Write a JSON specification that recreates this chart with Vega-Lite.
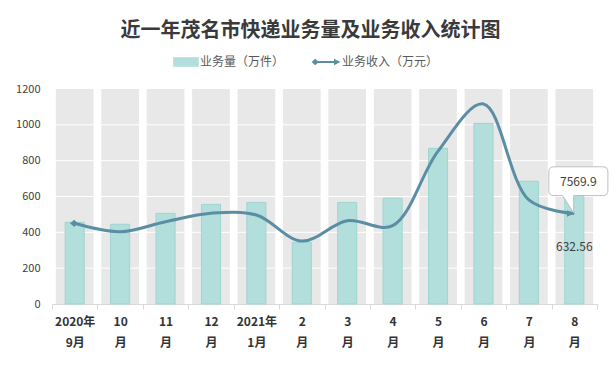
{
  "$schema": "https://vega.github.io/schema/vega-lite/v6.json",
  "width": 545,
  "height": 215,
  "autosize": "none",
  "padding": {"left": 52, "top": 89, "right": 19, "bottom": 67},
  "background": "white",
  "config": {
    "font": "Noto Sans CJK SC",
    "view": {"stroke": null},
    "axis": {"labelOverlap": false, "labelSeparation": 0, "labelBound": false},
    "axisQuantitative": {"labelOverlap": false, "tickCount": 7},
    "axisY": {"labelOverlap": false, "labelFlush": false, "format": "d", "domain": false, "ticks": false, "grid": false, "labelFontSize": 11, "labelColor": "#404040", "labelPadding": 12, "tickCount": 7}
  },
  "title": {
    "text": "近一年茂名市快递业务量及业务收入统计图",
    "font": "Noto Sans CJK SC",
    "fontSize": 20,
    "fontWeight": "bold",
    "color": "#3a3a3a",
    "anchor": "middle",
    "frame": "group",
    "dx": -14,
    "offset": 13
  },
  "datasets": {
    "monthly": [
      {"month": "2020年9月", "volume": 456, "revenue": 6755},
      {"month": "10月", "volume": 445, "revenue": 6050},
      {"month": "11月", "volume": 506, "revenue": 6890},
      {"month": "12月", "volume": 556, "revenue": 7600},
      {"month": "2021年1月", "volume": 567, "revenue": 7450},
      {"month": "2月", "volume": 344, "revenue": 5270},
      {"month": "3月", "volume": 567, "revenue": 6975},
      {"month": "4月", "volume": 590, "revenue": 6555},
      {"month": "5月", "volume": 869, "revenue": 12800},
      {"month": "6月", "volume": 1008, "revenue": 16750},
      {"month": "7月", "volume": 685, "revenue": 8710},
      {"month": "8月", "volume": 632.56, "revenue": 7569.9}
    ],
    "grid": [
      {"tick": 200}, {"tick": 400}, {"tick": 600}, {"tick": 800}, {"tick": 1000}
    ]
  },
  "resolve": {"scale": {"y": "independent"}},
  "layer": [
    {
      "layer": [
        {
          "data": {"name": "monthly"},
          "mark": {"type": "bar", "color": "#e8e8e8", "width": {"band": 0.83}},
          "encoding": {
            "x": {
              "field": "month",
              "type": "nominal",
              "sort": null,
              "scale": {"paddingInner": 0, "paddingOuter": 0},
              "axis": {
                "title": null,
                "labelAngle": 0,
                "domainColor": "#d9d9d9",
                "tickColor": "#d9d9d9",
                "tickSize": 5,
                "tickBand": "extent",
                "grid": false,
                "labelFlush": false,
                "labelOverlap": false,
                "labelFont": "Noto Sans CJK SC",
                "labelFontSize": 12,
                "labelFontWeight": "bold",
                "labelColor": "#333333",
                "labelLineHeight": 21,
                "labelPadding": 7,
                "labelBaseline": "top",
                "labelExpr": "length(datum.label) == 0 ? '' : length(datum.label) > 4 ? [substring(datum.label, 0, 5), substring(datum.label, 5, 7)] : [replace(datum.label, '月', ''), '月']"
              }
            },
            "y": {
              "datum": 1200,
              "type": "quantitative",
              "scale": {"domain": [0, 1200], "nice": false},
              "axis": {"title": null, "values": [0, 200, 400, 600, 800, 1000, 1200], "labelOverlap": false, "tickCount": 7}
            }
          }
        },
        {
          "data": {"name": "grid"},
          "mark": {"type": "rule", "color": "#ffffff", "strokeWidth": 1},
          "encoding": {
            "y": {"field": "tick", "type": "quantitative", "axis": {"title": null, "values": [0, 200, 400, 600, 800, 1000, 1200], "labelOverlap": false, "tickCount": 7}}
          }
        },
        {
          "data": {"name": "monthly"},
          "mark": {"type": "bar", "width": {"band": 0.42}, "stroke": "#9fd5cf", "strokeWidth": 1},
          "encoding": {
            "x": {"field": "month", "type": "nominal", "sort": null},
            "y": {"field": "volume", "type": "quantitative", "axis": {"title": null, "values": [0, 200, 400, 600, 800, 1000, 1200], "labelOverlap": false, "tickCount": 7}},
            "fill": {
              "datum": "业务量（万件）",
              "scale": {"domain": ["业务量（万件）"], "range": ["#b2dfdb"]},
              "legend": {
                "title": null,
                "orient": "none",
                "direction": "horizontal",
                "legendX": 126,
                "legendY": -35,
                "padding": 0,
                "symbolSize": 256,
                "symbolType": "M-1.6,-0.6H1.6V0.6H-1.6Z",
                "symbolStrokeWidth": 0,
                "labelOffset": 6,
                "labelFont": "Noto Sans CJK SC",
                "labelFontSize": 12,
                "labelColor": "#595959"
              }
            }
          }
        },
        {
          "data": {"name": "monthly"},
          "transform": [{"filter": "datum.month === '8月'"}],
          "mark": {"type": "text", "dy": 56, "fontSize": 12, "color": "#404040", "font": "Noto Sans CJK SC"},
          "encoding": {
            "x": {"field": "month", "type": "nominal", "sort": null},
            "y": {"field": "volume", "type": "quantitative", "axis": {"title": null, "values": [0, 200, 400, 600, 800, 1000, 1200], "labelOverlap": false, "tickCount": 7}},
            "text": {"field": "volume", "type": "quantitative", "format": ".2f"}
          }
        }
      ]
    },
    {
      "layer": [
        {
          "data": {"name": "monthly"},
          "mark": {"type": "line", "strokeWidth": 3, "interpolate": "catmull-rom"},
          "encoding": {
            "x": {"field": "month", "type": "nominal", "sort": null},
            "y": {"field": "revenue", "type": "quantitative", "scale": {"domain": [0, 18000], "nice": false}, "axis": null},
            "stroke": {
              "datum": "业务收入（万元）",
              "scale": {"domain": ["业务收入（万元）"], "range": ["#5a8ea5"]},
              "legend": {
                "title": null,
                "orient": "none",
                "direction": "horizontal",
                "legendX": 266,
                "legendY": -35,
                "padding": 0,
                "symbolSize": 256,
                "symbolType": "M-1.8,0L-1.35,-0.4L-0.9,0L-1.35,0.4Z M-1.1,-0.13H1.2V0.13H-1.1Z M1.0,-0.4L1.8,0L1.0,0.4Z",
                "symbolStrokeWidth": 0,
                "symbolFillColor": "#5a8ea5",
                "labelOffset": 8,
                "labelFont": "Noto Sans CJK SC",
                "labelFontSize": 12,
                "labelColor": "#595959",
                "encode": {
                  "symbols": {
                    "update": {
                      "fill": {"value": "#5a8ea5"},
                      "strokeWidth": {"value": 0},
                      "opacity": {"value": 1}
                    }
                  }
                }
              }
            }
          }
        },
        {
          "data": {"name": "monthly"},
          "transform": [{"filter": "datum.month === '2020年9月'"}],
          "mark": {"type": "point", "filled": true, "color": "#5a8ea5", "opacity": 1, "size": 64, "shape": "M-1.2,0L-0.1,-0.9L0.7,0L-0.1,0.9Z"},
          "encoding": {
            "x": {"field": "month", "type": "nominal", "sort": null},
            "y": {"field": "revenue", "type": "quantitative"}
          }
        },
        {
          "data": {"name": "monthly"},
          "transform": [{"filter": "datum.month === '8月'"}],
          "mark": {"type": "point", "filled": true, "color": "#5a8ea5", "opacity": 1, "size": 213, "shape": "M-1,-0.45L0,0L-1,0.45Z"},
          "encoding": {
            "x": {"field": "month", "type": "nominal", "sort": null},
            "y": {"field": "revenue", "type": "quantitative"}
          }
        },
        {
          "data": {"name": "monthly"},
          "transform": [{"filter": "datum.month === '8月'"}],
          "mark": {"type": "point", "filled": true, "fill": "#ffffff", "stroke": "#bfbfbf", "strokeWidth": 1, "opacity": 1, "size": 3600,
            "shape": "M-0.68,-1.56H0.95Q1.12,-1.56 1.12,-1.39V-0.77Q1.12,-0.6 0.95,-0.6H-0.02L-0.02,-0.02L-0.39,-0.6H-0.68Q-0.85,-0.6 -0.85,-0.77V-1.39Q-0.85,-1.56 -0.68,-1.56Z"},
          "encoding": {
            "x": {"field": "month", "type": "nominal", "sort": null},
            "y": {"field": "revenue", "type": "quantitative"}
          }
        },
        {
          "data": {"name": "monthly"},
          "transform": [{"filter": "datum.month === '8月'"}],
          "mark": {"type": "text", "dx": 4, "dy": -32, "fontSize": 12, "color": "#404040", "font": "Noto Sans CJK SC"},
          "encoding": {
            "x": {"field": "month", "type": "nominal", "sort": null},
            "y": {"field": "revenue", "type": "quantitative"},
            "text": {"field": "revenue", "type": "quantitative", "format": ".1f"}
          }
        }
      ]
    }
  ]
}
